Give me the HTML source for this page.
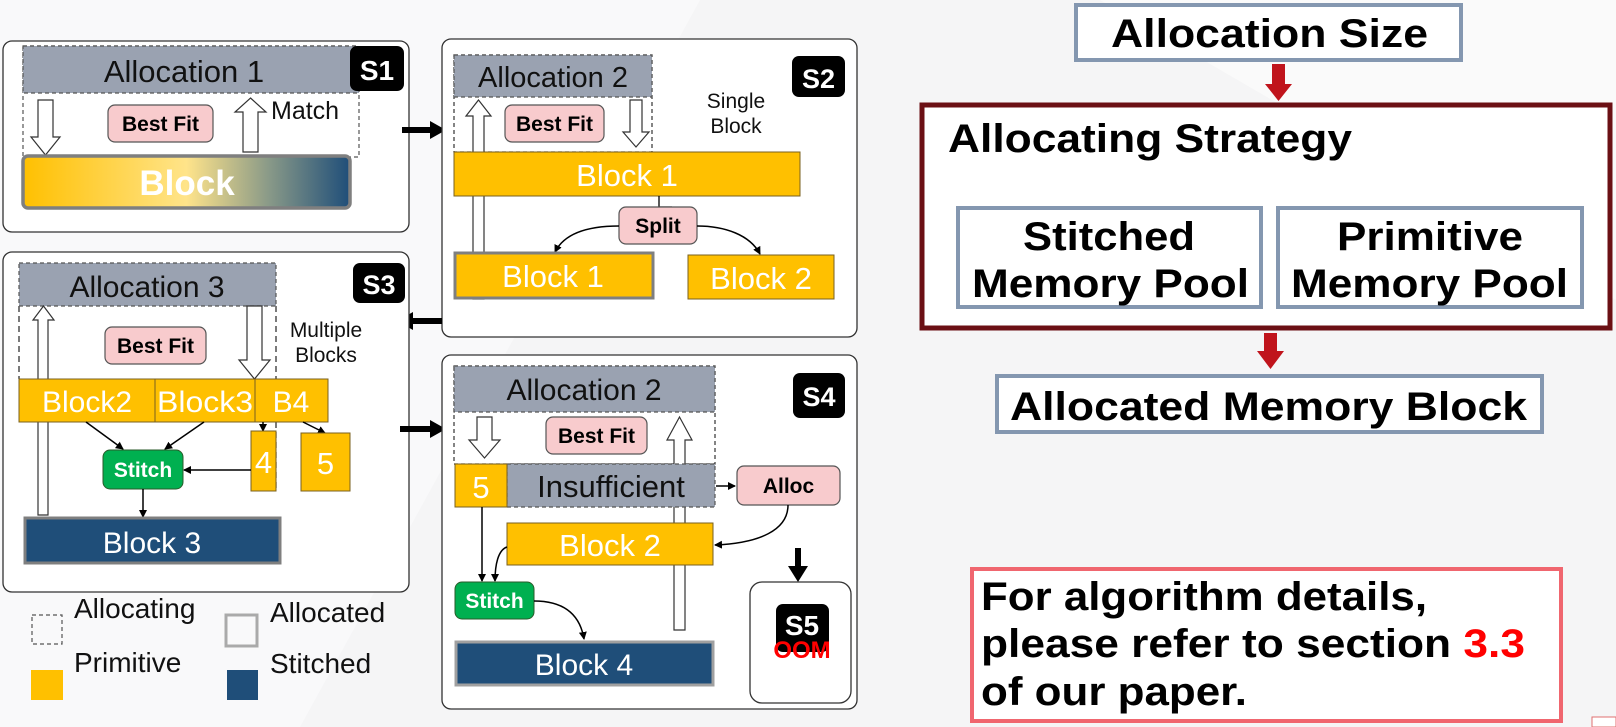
<!DOCTYPE html>
<html><head><meta charset="utf-8"><style>
html,body{margin:0;padding:0;background:#f5f5f6;}
svg{display:block;}
text{font-family:"Liberation Sans",Arial,sans-serif;}
</style></head><body>
<svg width="1616" height="727" viewBox="0 0 1616 727" xmlns="http://www.w3.org/2000/svg">
<defs>
<linearGradient id="g1" x1="0" x2="1" y1="0" y2="0">
<stop offset="0" stop-color="#ffc000"/><stop offset="0.5" stop-color="#ffe48a"/><stop offset="0.75" stop-color="#8a9a88"/><stop offset="1" stop-color="#1f4e79"/>
</linearGradient>
<marker id="ah" markerWidth="8" markerHeight="8" refX="7" refY="4" orient="auto" markerUnits="userSpaceOnUse"><path d="M0,0 L8,4 L0,8 z" fill="#000"/></marker>
</defs>
<rect width="1616" height="727" fill="#f5f5f6"/>
<polygon points="0,0 700,0 300,727 0,727" fill="#f9f9fa"/>
<polygon points="1100,0 1616,0 1616,300" fill="#fafafa"/>

<!-- S1 -->
<rect x="3" y="41" width="406" height="191" rx="9" fill="#fff" stroke="#333" stroke-width="1.3"/>
<rect x="23" y="46" width="336" height="111" fill="#fff" stroke="#555" stroke-dasharray="4,3" stroke-width="1.2"/>
<rect x="23" y="46" width="336" height="47" fill="#9aa2b1" stroke="#555" stroke-dasharray="4,3" stroke-width="1.2"/>
<text x="184" y="82" font-size="31" text-anchor="middle" fill="#111">Allocation 1</text>
<rect x="350" y="46" width="54" height="45" rx="7" fill="#000"/>
<text x="377" y="80" font-size="28" font-weight="bold" text-anchor="middle" fill="#fff">S1</text>
<polygon points="38,100 53,100 53,137 60,137 45.5,155 31,137 38,137" fill="#fff" stroke="#333" stroke-width="1.2"/>
<polygon points="250.5,98 266,112 258,112 258,152 243,152 243,112 235,112" fill="#fff" stroke="#333" stroke-width="1.2"/>
<rect x="108" y="105" width="105" height="37" rx="7" fill="#f8cbcd" stroke="#555" stroke-width="1.2"/>
<text x="160.5" y="131" font-size="21" font-weight="bold" text-anchor="middle" fill="#000">Best Fit</text>
<text x="271" y="119" font-size="25" fill="#111">Match</text>
<rect x="23" y="156" width="327" height="52" rx="5" fill="url(#g1)" stroke="#7f7f7f" stroke-width="3.5"/>
<text x="187" y="195" font-size="35" font-weight="bold" text-anchor="middle" fill="#fff">Block</text>

<!-- arrow S1->S2 -->
<line x1="402" y1="130" x2="432" y2="130" stroke="#000" stroke-width="6"/>
<polygon points="430,121 446,130 430,139" fill="#000"/>

<!-- S2 -->
<rect x="442" y="39" width="415" height="298" rx="9" fill="#fff" stroke="#333" stroke-width="1.3"/>
<rect x="454" y="55" width="198" height="97" fill="#fff" stroke="#333" stroke-dasharray="4,3" stroke-width="1.2"/>
<rect x="454" y="55" width="198" height="42" fill="#9aa2b1" stroke="#555" stroke-dasharray="4,3" stroke-width="1.2"/>
<text x="553" y="87" font-size="29" text-anchor="middle" fill="#111">Allocation 2</text>
<rect x="792" y="56" width="53" height="41" rx="7" fill="#000"/>
<text x="818.5" y="88" font-size="27" font-weight="bold" text-anchor="middle" fill="#fff">S2</text>
<polygon points="478.5,100 491,116 484,116 484,299 473,299 473,116 466,116" fill="#fff" stroke="#333" stroke-width="1.2"/>
<polygon points="630,100 642,100 642,132 649,132 636,147 623,132 630,132" fill="#fff" stroke="#333" stroke-width="1.2"/>
<rect x="505" y="105" width="99" height="37" rx="7" fill="#f8cbcd" stroke="#555" stroke-width="1.2"/>
<text x="554.5" y="131" font-size="21" font-weight="bold" text-anchor="middle" fill="#000">Best Fit</text>
<text x="736" y="108" font-size="21" text-anchor="middle" fill="#111">Single</text>
<text x="736" y="133" font-size="21" text-anchor="middle" fill="#111">Block</text>
<rect x="454" y="152" width="346" height="44" fill="#ffc000" stroke="#7a6020" stroke-width="1"/>
<text x="627" y="186" font-size="31" text-anchor="middle" fill="#fff">Block 1</text>
<path d="M659,196 L659,207 L672,207" fill="none" stroke="#000" stroke-width="1.3"/>
<rect x="619" y="207" width="78" height="37" rx="7" fill="#f8cbcd" stroke="#555" stroke-width="1.2"/>
<text x="658" y="233" font-size="21" font-weight="bold" text-anchor="middle" fill="#000">Split</text>
<path d="M619,226 C590,226 565,232 555,252" fill="none" stroke="#000" stroke-width="1.5" marker-end="url(#ah)"/>
<path d="M697,226 C725,226 750,235 760,254" fill="none" stroke="#000" stroke-width="1.5" marker-end="url(#ah)"/>
<rect x="455" y="253" width="198" height="45" fill="#ffc000" stroke="#7f7f7f" stroke-width="3"/>
<text x="553" y="287" font-size="31" text-anchor="middle" fill="#fff">Block 1</text>
<rect x="688" y="255" width="146" height="44" fill="#ffc000" stroke="#7a6020" stroke-width="1"/>
<text x="761" y="289" font-size="31" text-anchor="middle" fill="#fff">Block 2</text>

<!-- arrow S2->S3 -->
<line x1="442" y1="321" x2="410" y2="321" stroke="#000" stroke-width="6"/>
<polygon points="413,312 397,321 413,330" fill="#000"/>

<!-- S3 -->
<rect x="3" y="252" width="406" height="340" rx="9" fill="#fff" stroke="#333" stroke-width="1.3"/>
<line x1="19" y1="306" x2="19" y2="379" stroke="#333" stroke-dasharray="6,4" stroke-width="1.3"/>
<line x1="276" y1="306" x2="276" y2="379" stroke="#333" stroke-dasharray="6,4" stroke-width="1.3"/>
<line x1="276" y1="422" x2="276" y2="491" stroke="#333" stroke-dasharray="6,4" stroke-width="1.3"/>
<rect x="19" y="263" width="257" height="43" fill="#9aa2b1" stroke="#555" stroke-dasharray="4,3" stroke-width="1.2"/>
<text x="147" y="297" font-size="30" text-anchor="middle" fill="#111">Allocation 3</text>
<rect x="353" y="263" width="52" height="40" rx="7" fill="#000"/>
<text x="379" y="294" font-size="27" font-weight="bold" text-anchor="middle" fill="#fff">S3</text>
<polygon points="43.5,306 54,320 48,320 48,515 38,515 38,320 33,320" fill="#fff" stroke="#333" stroke-width="1.2"/>
<polygon points="247,306 262,306 262,360 270,360 254.5,379 239,360 247,360" fill="#fff" stroke="#333" stroke-width="1.2"/>
<rect x="105" y="327" width="101" height="37" rx="7" fill="#f8cbcd" stroke="#555" stroke-width="1.2"/>
<text x="155.5" y="353" font-size="21" font-weight="bold" text-anchor="middle" fill="#000">Best Fit</text>
<text x="326" y="337" font-size="21" text-anchor="middle" fill="#111">Multiple</text>
<text x="326" y="362" font-size="21" text-anchor="middle" fill="#111">Blocks</text>
<rect x="19" y="379" width="136" height="43" fill="#ffc000" stroke="#7a6020" stroke-width="1"/>
<rect x="155" y="379" width="100" height="43" fill="#ffc000" stroke="#7a6020" stroke-width="1"/>
<rect x="255" y="379" width="73" height="43" fill="#ffc000" stroke="#7a6020" stroke-width="1"/>
<text x="87" y="412" font-size="30" text-anchor="middle" fill="#fff">Block2</text>
<text x="205" y="412" font-size="30" text-anchor="middle" fill="#fff" textLength="96" lengthAdjust="spacingAndGlyphs">Block3</text>
<text x="291" y="412" font-size="30" text-anchor="middle" fill="#fff">B4</text>
<line x1="86" y1="422" x2="123" y2="449" stroke="#000" stroke-width="1.5" marker-end="url(#ah)"/>
<line x1="204" y1="422" x2="165" y2="449" stroke="#000" stroke-width="1.5" marker-end="url(#ah)"/>
<line x1="263" y1="422" x2="263" y2="431" stroke="#000" stroke-width="1.5" marker-end="url(#ah)"/>
<line x1="303" y1="422" x2="325" y2="433" stroke="#000" stroke-width="1.5" marker-end="url(#ah)"/>
<rect x="103" y="450" width="80" height="39" rx="7" fill="#00b050" stroke="#2a5a2a" stroke-width="1"/>
<text x="143" y="477" font-size="21" font-weight="bold" text-anchor="middle" fill="#fff">Stitch</text>
<rect x="251" y="431" width="25" height="60" fill="#ffc000" stroke="#7a6020" stroke-width="1"/>
<text x="263.5" y="473" font-size="31" text-anchor="middle" fill="#fff">4</text>
<rect x="301" y="433" width="49" height="58" fill="#ffc000" stroke="#7a6020" stroke-width="1"/>
<text x="325.5" y="474" font-size="31" text-anchor="middle" fill="#fff">5</text>
<line x1="251" y1="470" x2="184" y2="470" stroke="#000" stroke-width="1.5" marker-end="url(#ah)"/>
<line x1="143" y1="489" x2="143" y2="517" stroke="#000" stroke-width="1.5" marker-end="url(#ah)"/>
<rect x="25" y="518" width="255" height="45" fill="#1f4e79" stroke="#7f7f7f" stroke-width="3"/>
<text x="152" y="553" font-size="30" text-anchor="middle" fill="#fff">Block 3</text>

<!-- legend -->
<rect x="32" y="615" width="30" height="29" fill="none" stroke="#555" stroke-dasharray="4,3" stroke-width="1.2"/>
<text x="74" y="618" font-size="28" fill="#111">Allocating</text>
<rect x="226" y="615" width="31" height="31" fill="none" stroke="#aaa" stroke-width="3"/>
<text x="270" y="622" font-size="28" fill="#111">Allocated</text>
<rect x="31" y="670" width="32" height="30" fill="#ffc000"/>
<text x="74" y="672" font-size="28" fill="#111">Primitive</text>
<rect x="227" y="670" width="31" height="30" fill="#1f4e79"/>
<text x="270" y="673" font-size="28" fill="#111">Stitched</text>

<!-- arrow S3->S4 -->
<line x1="400" y1="429" x2="432" y2="429" stroke="#000" stroke-width="6"/>
<polygon points="430,420 446,429 430,438" fill="#000"/>

<!-- S4 -->
<rect x="442" y="355" width="415" height="354" rx="9" fill="#fff" stroke="#333" stroke-width="1.3"/>
<rect x="454" y="366" width="261" height="98" fill="#fff" stroke="#333" stroke-dasharray="4,3" stroke-width="1.2"/>
<rect x="454" y="366" width="261" height="46" fill="#9aa2b1" stroke="#555" stroke-dasharray="4,3" stroke-width="1.2"/>
<text x="584" y="400" font-size="30" text-anchor="middle" fill="#111">Allocation 2</text>
<rect x="793" y="373" width="52" height="45" rx="7" fill="#000"/>
<text x="819" y="406" font-size="27" font-weight="bold" text-anchor="middle" fill="#fff">S4</text>
<polygon points="477,417 492,417 492,440 500,440 484.5,458 469,440 477,440" fill="#fff" stroke="#333" stroke-width="1.2"/>
<polygon points="679.5,417 692,440 685,440 685,630 674,630 674,440 667,440" fill="#fff" stroke="#333" stroke-width="1.2"/>
<rect x="546" y="417" width="101" height="37" rx="7" fill="#f8cbcd" stroke="#555" stroke-width="1.2"/>
<text x="596.5" y="443" font-size="21" font-weight="bold" text-anchor="middle" fill="#000">Best Fit</text>
<rect x="507" y="464" width="208" height="43" fill="#9aa2b1" stroke="#555" stroke-dasharray="4,3" stroke-width="1.2"/>
<text x="611" y="497" font-size="31" text-anchor="middle" fill="#111">Insufficient</text>
<rect x="455" y="464" width="52" height="43" fill="#ffc000" stroke="#7a6020" stroke-width="1"/>
<text x="481" y="498" font-size="31" text-anchor="middle" fill="#fff">5</text>
<line x1="716" y1="486" x2="735" y2="486" stroke="#000" stroke-width="1.5" marker-end="url(#ah)"/>
<rect x="737" y="466" width="103" height="39" rx="7" fill="#f8cbcd" stroke="#555" stroke-width="1.2"/>
<text x="788.5" y="493" font-size="21" font-weight="bold" text-anchor="middle" fill="#000">Alloc</text>
<path d="M788,505 C788,530 760,543 715,545" fill="none" stroke="#000" stroke-width="1.5" marker-end="url(#ah)"/>
<rect x="507" y="523" width="206" height="42" fill="#ffc000" stroke="#7a6020" stroke-width="1"/>
<text x="610" y="556" font-size="31" text-anchor="middle" fill="#fff">Block 2</text>
<line x1="482" y1="507" x2="482" y2="581" stroke="#000" stroke-width="1.5" marker-end="url(#ah)"/>
<path d="M507,547 C498,550 495,565 495,581" fill="none" stroke="#000" stroke-width="1.5" marker-end="url(#ah)"/>
<rect x="455" y="582" width="79" height="37" rx="7" fill="#00b050" stroke="#2a5a2a" stroke-width="1"/>
<text x="494.5" y="608" font-size="21" font-weight="bold" text-anchor="middle" fill="#fff">Stitch</text>
<path d="M534,601 C565,601 580,615 584,639" fill="none" stroke="#000" stroke-width="1.5" marker-end="url(#ah)"/>
<rect x="456" y="642" width="257" height="43" fill="#1f4e79" stroke="#a0a0a0" stroke-width="3"/>
<text x="584" y="675" font-size="30" text-anchor="middle" fill="#fff">Block 4</text>
<line x1="798" y1="548" x2="798" y2="568" stroke="#000" stroke-width="6"/>
<polygon points="788,566 808,566 798,582" fill="#000"/>
<rect x="750" y="582" width="101" height="121" rx="12" fill="#fff" stroke="#333" stroke-width="1.3"/>
<rect x="776" y="604" width="53" height="48" rx="7" fill="#000"/>
<text x="802" y="635" font-size="28" font-weight="bold" text-anchor="middle" fill="#fff">S5</text>
<text x="802" y="658" font-size="24" font-weight="bold" text-anchor="middle" fill="#ff0000">OOM</text>

<!-- right flow -->
<rect x="1076" y="5" width="385" height="55" fill="#fff" stroke="#8497b0" stroke-width="4"/>
<text x="1111" y="47" font-size="40" font-weight="bold" fill="#000" textLength="317" lengthAdjust="spacingAndGlyphs">Allocation Size</text>
<rect x="1272" y="64" width="13" height="22" fill="#c0141c"/>
<polygon points="1265,84 1292,84 1278.5,101" fill="#c0141c"/>
<rect x="922" y="105" width="688" height="223" fill="#fff" stroke="#6b1014" stroke-width="5"/>
<text x="948" y="152" font-size="40" font-weight="bold" fill="#000" textLength="404" lengthAdjust="spacingAndGlyphs">Allocating Strategy</text>
<rect x="958" y="208" width="303" height="99" fill="#fff" stroke="#8497b0" stroke-width="4"/>
<rect x="1278" y="208" width="304" height="99" fill="#fff" stroke="#8497b0" stroke-width="4"/>
<text x="1023" y="250" font-size="40" font-weight="bold" fill="#000" textLength="172" lengthAdjust="spacingAndGlyphs">Stitched</text>
<text x="972" y="297" font-size="40" font-weight="bold" fill="#000" textLength="277" lengthAdjust="spacingAndGlyphs">Memory Pool</text>
<text x="1337" y="250" font-size="40" font-weight="bold" fill="#000" textLength="186" lengthAdjust="spacingAndGlyphs">Primitive</text>
<text x="1291" y="297" font-size="40" font-weight="bold" fill="#000" textLength="277" lengthAdjust="spacingAndGlyphs">Memory Pool</text>
<rect x="1264" y="333" width="13" height="20" fill="#c0141c"/>
<polygon points="1257,351 1284,351 1270.5,369" fill="#c0141c"/>
<rect x="997" y="376" width="545" height="56" fill="#fff" stroke="#8497b0" stroke-width="4"/>
<text x="1010" y="420" font-size="40" font-weight="bold" fill="#000" textLength="517" lengthAdjust="spacingAndGlyphs">Allocated Memory Block</text>

<rect x="972" y="569" width="589" height="152" fill="#fff" stroke="#f0666f" stroke-width="4"/>
<text x="981" y="610" font-size="40" font-weight="bold" fill="#000" textLength="446" lengthAdjust="spacingAndGlyphs">For algorithm details,</text>
<text x="981" y="657" font-size="40" font-weight="bold" fill="#000" textLength="544" lengthAdjust="spacingAndGlyphs">please refer to section <tspan fill="#ff0000">3.3</tspan></text>
<text x="981" y="705" font-size="40" font-weight="bold" fill="#000" textLength="266" lengthAdjust="spacingAndGlyphs">of our paper.</text>
<rect x="1592" y="717" width="24" height="10" fill="#fff" stroke="#e07070" stroke-width="1"/>
</svg>
</body></html>
